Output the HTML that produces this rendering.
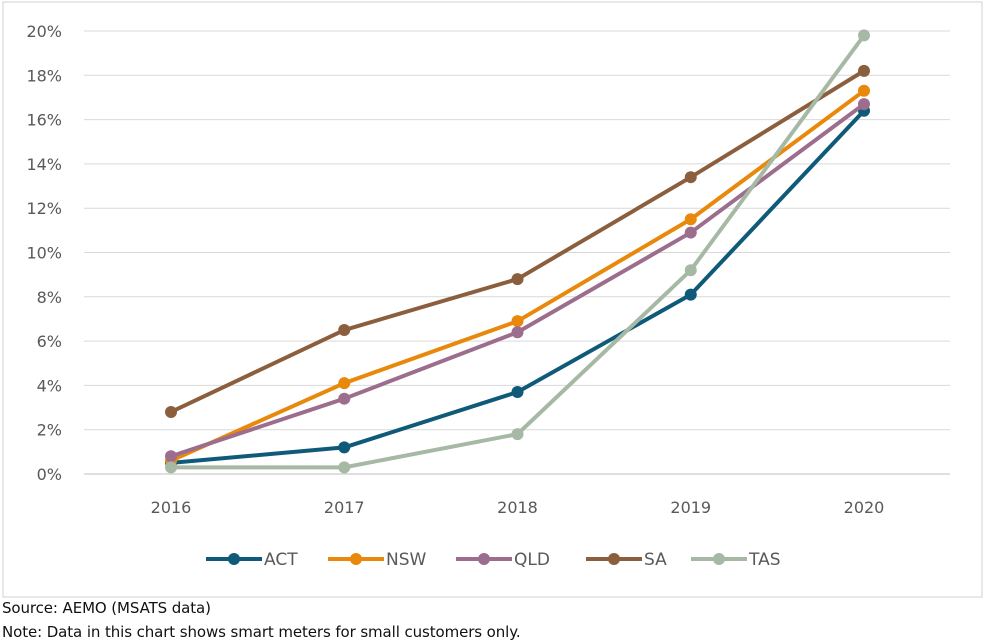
<!DOCTYPE html>
<html><head><meta charset="utf-8"><style>
body{margin:0;background:#fff;width:985px;height:644px;overflow:hidden;font-family:"DejaVu Sans","Liberation Sans",sans-serif}
svg{position:absolute;left:0;top:0}
.note{position:absolute;left:2px;font-size:15px;color:#111;font-family:"DejaVu Sans",sans-serif;letter-spacing:-0.1px}
</style></head><body>
<svg width="985" height="644">
<rect x="3" y="2" width="979" height="595" fill="#fff" stroke="#d0d0d0"/>
<g id="grid"></g><g id="series"></g><g id="legend"></g>
</svg>
<div class="note" style="top:599px">Source: AEMO (MSATS data)</div>
<div class="note" style="top:623px">Note: Data in this chart shows smart meters for small customers only.</div>
<script>
const years=["2016","2017","2018","2019","2020"];
const yTicks=[0,2,4,6,8,10,12,14,16,18,20];
const seriesNames=["ACT","NSW","QLD","SA","TAS"];
const ACT=[0.5,1.2,3.7,8.1,16.4];
const NSW=[0.6,4.1,6.9,11.5,17.3];
const QLD=[0.8,3.4,6.4,10.9,16.7];
const SA=[2.8,6.5,8.8,13.4,18.2];
const TAS=[0.3,0.3,1.8,9.2,19.8];
const colors=["#0f5a78","#e8890c","#9c6d8d","#8b5f3d","#a6b9a5"];
const NS="http://www.w3.org/2000/svg";
const xS=i=>171+i*173.25;
const yS=v=>474-v*22.15;
function mk(t,a,p){const e=document.createElementNS(NS,t);for(const k in a)e.setAttribute(k,a[k]);p.appendChild(e);return e;}
const g=document.getElementById('grid');
yTicks.forEach(v=>{
 const l=mk('line',{x1:84,x2:950,y1:yS(v),y2:yS(v),stroke:v===0?'#bfbfbf':'#d9d9d9','stroke-width':1},g);
 
 
 const t=mk('text',{x:62,y:yS(v)+6,'text-anchor':'end','font-size':16,fill:'#595959'},g);
 t.textContent=v+'%';
 
 
});
years.forEach((y,i)=>{
 const t=mk('text',{x:xS(i),y:513,'text-anchor':'middle','font-size':16,fill:'#595959'},g);
 t.textContent=y;
 
 
});
const sg=document.getElementById('series');
[ACT,NSW,QLD,SA,TAS].forEach((d,s)=>{
 const gr=mk('g',{},sg);
 
 
 mk('polyline',{points:d.map((v,i)=>xS(i)+','+yS(v)).join(' '),fill:'none',stroke:colors[s],'stroke-width':4,'stroke-linejoin':'round'},gr);
 d.forEach((v,i)=>{
  const c=mk('circle',{cx:xS(i),cy:yS(v),r:6,fill:colors[s]},gr);
  
  
 });
});
const lg=document.getElementById('legend');
const lx=[206,328,456,586,691];
seriesNames.forEach((n,s)=>{
 const gr=mk('g',{},lg);
 
 
 mk('line',{x1:lx[s],x2:lx[s]+56,y1:559,y2:559,stroke:colors[s],'stroke-width':4},gr);
 mk('circle',{cx:lx[s]+28,cy:559,r:6,fill:colors[s]},gr);
 const t=mk('text',{x:lx[s]+58,y:565,'font-size':17,fill:'#595959'},gr);
 t.textContent=n;
});
</script>
</body></html>
